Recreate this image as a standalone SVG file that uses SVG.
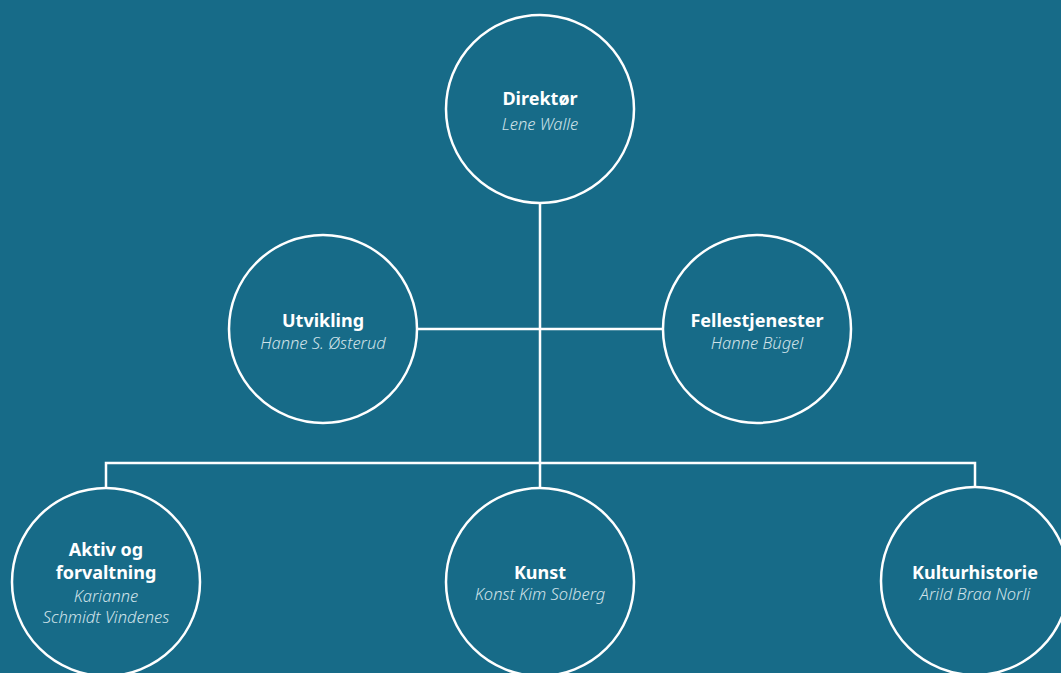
<svg xmlns="http://www.w3.org/2000/svg" width="1061" height="673" viewBox="0 0 1061 673">
<style>
.n{fill:none;stroke:#ffffff;stroke-width:2.5}
.c{fill:none;stroke:#ffffff;stroke-width:2.5}
.t{font-family:"Noto Sans","Open Sans",sans-serif;font-weight:bold;font-size:18px;fill:#ffffff;text-anchor:middle}
.s{font-family:"Noto Sans","Open Sans",sans-serif;font-style:italic;font-weight:300;font-size:16.5px;fill:#cfe2e9;text-anchor:middle}
</style>
<rect width="1061" height="673" fill="#176b88"/>
<g id="connectors">
<path class="c" d="M540 203 V463 M417 329 H663 M106 488 V463 H975 V487 M540 463 V488"/>
</g>
<g id="direktor"><circle class="n" cx="540" cy="109" r="94"/><text class="t" x="540" y="105">Direktør</text><text class="s" x="540" y="130">Lene Walle</text></g>
<g id="utvikling"><circle class="n" cx="323" cy="329" r="94"/><text class="t" x="323" y="327">Utvikling</text><text class="s" x="323" y="349">Hanne S. Østerud</text></g>
<g id="fellestjenester"><circle class="n" cx="757" cy="329" r="94"/><text class="t" x="757" y="327">Fellestjenester</text><text class="s" x="757" y="349">Hanne Bügel</text></g>
<g id="aktiv"><circle class="n" cx="106" cy="582" r="94"/><text class="t" x="106" y="556">Aktiv og</text><text class="t" x="106" y="579">forvaltning</text><text class="s" x="106" y="602">Karianne</text><text class="s" x="106" y="623">Schmidt Vindenes</text></g>
<g id="kunst"><circle class="n" cx="540" cy="582" r="94"/><text class="t" x="540" y="579">Kunst</text><text class="s" x="540" y="600">Konst Kim Solberg</text></g>
<g id="kulturhistorie"><circle class="n" cx="975" cy="581" r="94"/><text class="t" x="975" y="579">Kulturhistorie</text><text class="s" x="975" y="600">Arild Braa Norli</text></g>
</svg>
